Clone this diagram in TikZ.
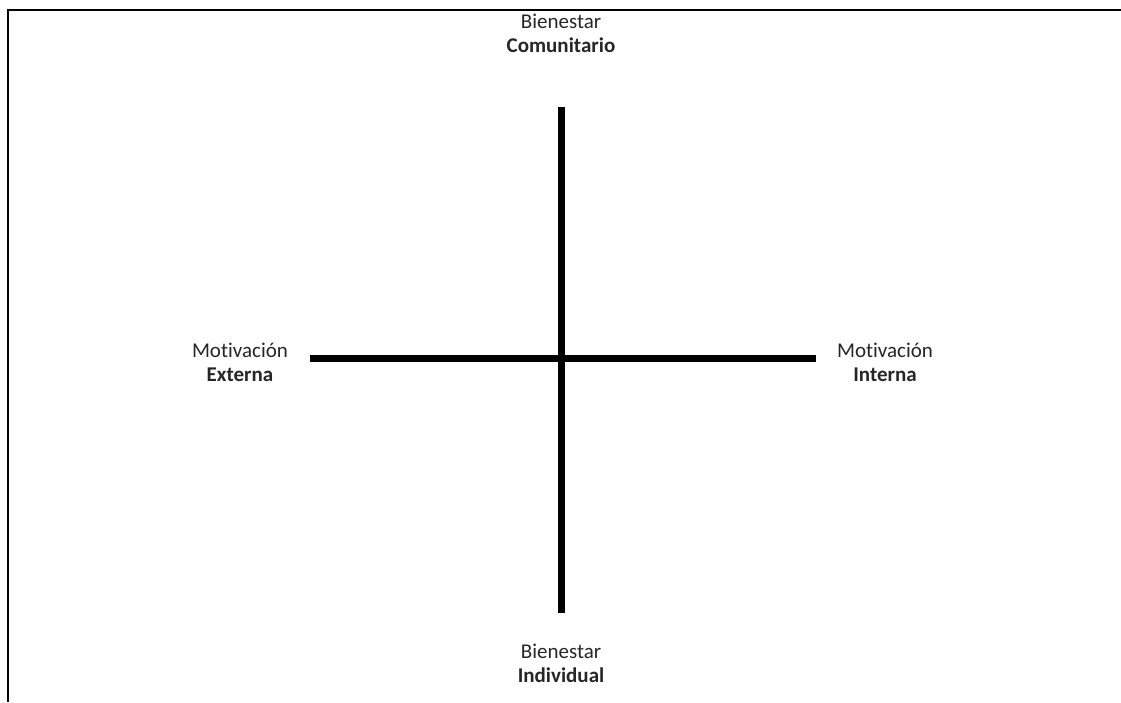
\documentclass[tikz,border=0pt]{standalone}
\usepackage{fontspec}
\setmainfont{Carlito}[Ligatures={NoCommon}]
\usepackage{tikz}
\usetikzlibrary{positioning}
\tikzset{
  axis/.style={
    line width=7pt,
  },
  frame/.style={
    line width=2pt,
  },
  quadlabel/.style={
    align=center,
    inner sep=0pt,
    text=black!85,
    font=\fontsize{21}{24}\selectfont
  },
  every picture/.style = {
    x=1pt,
    y=-1pt
  }
}

\begin{document}
\begin{tikzpicture}
    \useasboundingbox (0,0) rectangle (1121,702);
    % frame
    \coordinate (fl) at (8,702);
    \coordinate (fc) at (8,10);
    \coordinate (fr) at (1121,10);
    \draw[frame] (fl) -- (fc) -- (fr);
    % axes
    \coordinate (n) at (561,107);
    \coordinate (s) at (561,613);
    \coordinate (w) at (310,358);
    \coordinate (e) at (816,358);
    \draw[axis] (n) -- (s);
    \draw[axis] (w) -- (e);
    % labels
    \node[quadlabel] (comunitario) at (561,33) {Bienestar\\\textbf{Comunitario}};
    \node[quadlabel] (individual) at (561,663) {Bienestar\\\textbf{Individual}};
    \node[quadlabel] (externa) at (240,362) {Motivación\\\textbf{Externa}};
    \node[quadlabel] (interna) at (885,362) {Motivación\\\textbf{Interna}};
\end{tikzpicture}
\end{document}
